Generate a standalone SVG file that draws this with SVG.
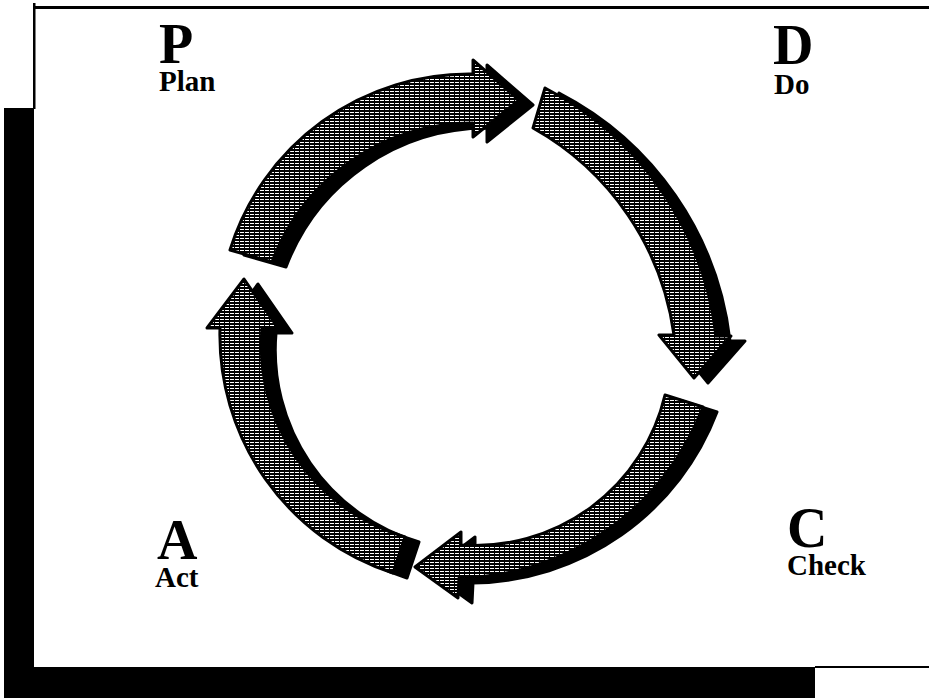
<svg xmlns="http://www.w3.org/2000/svg" xmlns:xlink="http://www.w3.org/1999/xlink" width="929" height="698" viewBox="0 0 929 698">
<style>
.frame{fill:#000}
.big{font-family:"Liberation Serif","Times New Roman",serif;font-weight:bold;font-size:56px;fill:#000}
.small{font-family:"Liberation Serif","Times New Roman",serif;font-weight:bold;font-size:29px;fill:#000}
.shadow{fill:#000;stroke:#000;stroke-width:3;stroke-linejoin:round}
.body{fill:url(#hatch);stroke:#000;stroke-width:3;stroke-linejoin:round}
</style>
<defs>
<pattern id="hatch" width="5" height="3" patternUnits="userSpaceOnUse">
<rect width="5" height="3" fill="#000"/>
<rect x="0" y="1" width="4" height="1" fill="#fff"/>
</pattern>
<path id="a1" d="M230,250 A250,250 0 0 1 473,74 L473,60 L519,100 L473,137 L473,123 A215,215 0 0 0 272,262 Z"/>
<path id="a2" d="M545,88 A320,320 0 0 1 716,336 L731,336 L694,378 L659,335 L674,335 A280,280 0 0 0 533,128 Z"/>
<path id="a3" d="M703,407 A265,265 0 0 1 459,578 L458,598 L415,567 L461,532 L461,545 A195,195 0 0 0 665,395 Z"/>
<path id="a4" d="M393,573 A250,250 0 0 1 220,328 L207,328 L244,279 L278,328 L262,328 A200,200 0 0 0 405,537 Z"/>
</defs>
<rect width="929" height="698" fill="#fff"/>
<g id="frame">
<rect class="frame" x="33" y="3" width="2.5" height="106"/>
<rect class="frame" x="33" y="6" width="896" height="3"/>
<rect class="frame" x="4" y="108" width="30" height="590"/>
<rect class="frame" x="4" y="667" width="811" height="31"/>
<rect class="frame" x="815" y="666" width="114" height="2"/>
</g>
<g id="connectors">
<g id="arrow-plan-do">
<use xlink:href="#a1" class="shadow" transform="translate(14,5)"/>
<use xlink:href="#a1" class="body"/>
</g>
<g id="arrow-do-check">
<use xlink:href="#a2" class="shadow" transform="translate(14,5)"/>
<use xlink:href="#a2" class="body"/>
</g>
<g id="arrow-check-act">
<use xlink:href="#a3" class="shadow" transform="translate(14,5)"/>
<use xlink:href="#a3" class="body"/>
</g>
<g id="arrow-act-plan">
<use xlink:href="#a4" class="shadow" transform="translate(14,5)"/>
<use xlink:href="#a4" class="body"/>
</g>
</g>
<g id="node-plan">
<text class="big" x="159" y="63">P</text>
<text class="small" x="159" y="91">Plan</text>
</g>
<g id="node-do">
<text class="big" x="773" y="64">D</text>
<text class="small" x="774" y="94">Do</text>
</g>
<g id="node-check">
<text class="big" x="787" y="547">C</text>
<text class="small" x="787" y="575">Check</text>
</g>
<g id="node-act">
<text class="big" x="157" y="559">A</text>
<text class="small" x="155" y="587">Act</text>
</g>
</svg>
